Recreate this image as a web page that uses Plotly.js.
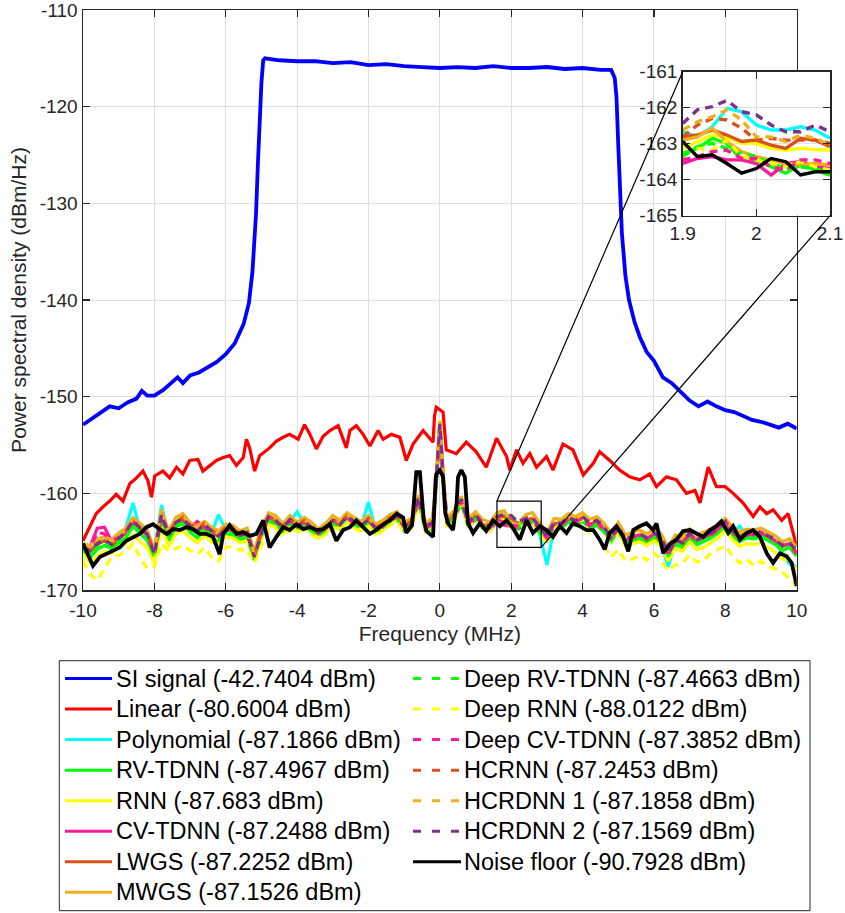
<!DOCTYPE html>
<html><head><meta charset="utf-8">
<script src="https://cdn.plot.ly/plotly-3.0.1.min.js"></script>
<style>html,body{margin:0;padding:0;background:#fff}#chart{width:845px;height:913px}</style>
</head><body><div id="chart"></div>
<script>
// ---------------- DATA ----------------
const siFreq = [-10,-9.75,-9.5,-9.25,-9,-8.75,-8.5,-8.35,-8.2,-8,-7.75,-7.5,-7.35,-7.2,-7,-6.75,-6.5,-6.25,-6,-5.75,-5.5,-5.35,-5.25,-5.15,-5.1,-5.05,-5,-4.95,-4.9,-4.5,-4,-3.5,-3,-2.5,-2,-1.5,-1,-0.5,0,0.5,1,1.5,2,2.5,3,3.5,4,4.5,4.8,4.9,4.95,5,5.05,5.1,5.2,5.3,5.45,5.6,5.8,6,6.25,6.5,6.75,7,7.25,7.5,7.75,8,8.25,8.5,8.75,9,9.25,9.5,9.75,10];
const siPsd = [-152.9,-152.3,-151.6,-151.0,-151.2,-150.6,-150.2,-149.4,-149.9,-149.9,-149.3,-148.5,-148.0,-148.6,-147.8,-147.5,-146.9,-146.4,-145.6,-144.5,-142.5,-140.3,-137,-131,-126,-120.5,-117.5,-115.2,-115.0,-115.2,-115.3,-115.3,-115.5,-115.4,-115.7,-115.6,-115.8,-115.9,-116.0,-115.9,-116.0,-115.8,-116.0,-116.0,-115.9,-116.1,-116.0,-116.2,-116.2,-117.0,-119,-124,-129,-133,-137.5,-140,-142.2,-143.8,-145.4,-146.3,-148.0,-148.6,-149.5,-150.4,-151.0,-150.5,-151.0,-151.4,-151.6,-152.0,-152.4,-152.6,-152.9,-153.2,-152.8,-153.3];

const linearFreq = [-10,-9.81,-9.63,-9.44,-9.25,-9.07,-8.88,-8.69,-8.5,-8.32,-8.18,-8.08,-7.99,-7.76,-7.57,-7.38,-7.2,-7.01,-6.78,-6.64,-6.45,-6.26,-6.07,-5.89,-5.7,-5.51,-5.42,-5.33,-5.19,-5.05,-4.77,-4.58,-4.39,-4.21,-3.97,-3.79,-3.64,-3.46,-3.27,-3.08,-2.85,-2.62,-2.52,-2.34,-2.15,-1.96,-1.73,-1.59,-1.36,-1.12,-0.94,-0.75,-0.47,-0.19,-0.15,-0.1,0.09,0.18,0.46,0.74,1.02,1.3,1.59,1.87,1.96,2.15,2.33,2.52,2.71,2.99,3.17,3.45,3.73,4.02,4.3,4.48,4.76,5.04,5.32,5.6,5.88,6.07,6.35,6.63,6.91,7.15,7.29,7.52,7.75,7.99,8.22,8.5,8.78,8.97,9.16,9.34,9.58,9.76,9.9,10];
const linearPsd = [-164.9,-163.5,-162.1,-161.4,-160.8,-160.1,-160.8,-159.0,-158.4,-157.7,-158.7,-160.4,-158.2,-157.7,-158.4,-157.3,-158.0,-156.6,-156.5,-157.7,-157.1,-156.6,-156.3,-156.1,-157.1,-156.3,-154.4,-155.3,-157.7,-156.1,-155.3,-154.6,-154.2,-153.9,-154.4,-152.9,-153.9,-155.4,-154.1,-153.5,-153.0,-155.3,-153.5,-153.0,-153.9,-155.1,-153.5,-154.4,-153.9,-154.2,-156.6,-154.9,-153.5,-154.7,-152.0,-151.1,-151.6,-155.5,-155.9,-154.7,-155.7,-157.3,-154.3,-156.2,-157.6,-155.5,-156.9,-155.9,-157.3,-156.2,-157.6,-154.9,-155.5,-158.1,-156.9,-155.7,-156.6,-157.6,-158.3,-158.6,-158.0,-159.3,-158.3,-158.6,-160.0,-159.7,-161.0,-157.3,-159.3,-159.3,-160.0,-161.0,-162.4,-161.4,-162.1,-161.7,-162.8,-162.1,-164.1,-165.5];

const noiseFreq = [-10,-9.81,-9.72,-9.53,-9.35,-9.16,-8.97,-8.79,-8.6,-8.41,-8.22,-8.04,-7.85,-7.66,-7.48,-7.29,-7.1,-6.92,-6.73,-6.54,-6.36,-6.26,-6.17,-6.07,-5.89,-5.7,-5.51,-5.33,-5.14,-4.95,-4.81,-4.77,-4.58,-4.39,-4.21,-4.02,-3.83,-3.64,-3.46,-3.27,-3.08,-2.9,-2.71,-2.52,-2.34,-2.15,-1.96,-1.78,-1.59,-1.4,-1.21,-1.03,-0.94,-0.78,-0.7,-0.66,-0.56,-0.5,-0.45,-0.38,-0.19,-0.12,-0.1,0,0.09,0.15,0.23,0.37,0.47,0.51,0.6,0.7,0.75,0.79,0.93,1.12,1.3,1.49,1.68,1.87,2.05,2.24,2.43,2.61,2.8,2.99,3.17,3.36,3.55,3.73,3.92,4.11,4.3,4.48,4.62,4.76,4.95,5.14,5.28,5.42,5.6,5.79,5.98,6.07,6.26,6.45,6.63,6.82,7.01,7.19,7.38,7.57,7.75,7.89,8.08,8.22,8.41,8.6,8.78,8.97,9.16,9.34,9.53,9.72,9.86,10];
const noisePsd = [-165.2,-166.9,-167.5,-166.6,-166.3,-165.9,-165.6,-164.9,-164.5,-164.2,-163.5,-163.2,-163.7,-164.2,-163.7,-163.8,-163.5,-163.7,-164.2,-164.2,-164.5,-165.6,-166.3,-164.2,-163.3,-164.2,-164.0,-164.4,-164.2,-162.8,-164.9,-165.6,-164.5,-163.5,-163.8,-163.2,-163.7,-163.5,-163.8,-163.7,-163.2,-164.9,-163.8,-163.5,-162.8,-163.5,-164.2,-163.8,-163.2,-162.8,-162.1,-162.5,-164.1,-163.3,-158.6,-157.8,-157.8,-160.0,-162.8,-163.9,-164.5,-158.6,-158.0,-157.6,-158.3,-162.0,-163.1,-163.8,-161.0,-158.3,-157.6,-158.3,-161.5,-163.1,-164.1,-163.1,-163.9,-162.8,-163.4,-162.8,-163.6,-164.8,-162.8,-164.1,-163.4,-163.8,-164.5,-163.4,-164.1,-163.1,-163.4,-163.8,-163.8,-164.8,-165.8,-164.1,-163.4,-164.5,-166.0,-163.8,-163.4,-163.1,-163.8,-163.1,-166.2,-165.2,-164.8,-163.9,-163.8,-164.1,-164.5,-163.8,-163.4,-162.9,-164.1,-163.4,-164.8,-164.1,-163.8,-164.5,-166.2,-167.2,-166.2,-166.5,-167.2,-169.6];

// common frequency grid for the cancellation methods
const gridFreq = [-10,-9.8,-9.6,-9.4,-9.2,-9,-8.8,-8.6,-8.4,-8.2,-8,-7.8,-7.6,-7.4,-7.2,-7,-6.8,-6.6,-6.4,-6.2,-6,-5.8,-5.6,-5.4,-5.2,-5,-4.8,-4.6,-4.4,-4.2,-4,-3.8,-3.6,-3.4,-3.2,-3,-2.8,-2.6,-2.4,-2.2,-2,-1.8,-1.6,-1.4,-1.2,-1,-0.8,-0.6,-0.4,-0.2,-0.1,0,0.1,0.2,0.4,0.6,0.8,1,1.2,1.4,1.6,1.8,2,2.2,2.4,2.6,2.8,3,3.2,3.4,3.6,3.8,4,4.2,4.4,4.6,4.8,5,5.2,5.4,5.6,5.8,6,6.2,6.4,6.6,6.8,7,7.2,7.4,7.6,7.8,8,8.2,8.4,8.6,8.8,9,9.2,9.4,9.6,9.8,10];

const polynomialPsd = [-165.8,-166.2,-165.0,-164.9,-165.4,-164.8,-163.6,-161.0,-163.8,-164.4,-165.9,-161.2,-164.5,-163.2,-162.9,-163.6,-164.1,-163.4,-164.1,-162.2,-163.8,-164.0,-164.5,-164.4,-166.2,-163.6,-162.8,-163.0,-163.7,-162.9,-161.9,-163.1,-163.7,-164.2,-163.7,-163.0,-163.4,-162.6,-163.1,-163.4,-160.9,-163.8,-163.5,-162.8,-162.4,-163.5,-163.2,-160.7,-163.6,-163.2,-158.8,-153.0,-158.8,-163.1,-162.4,-160.8,-163.2,-162.4,-163.3,-163.6,-162.6,-162.3,-162.3,-163.2,-162.9,-162.8,-164.3,-167.4,-163.6,-163.4,-162.8,-163.0,-162.6,-163.4,-163.1,-163.8,-164.9,-163.7,-165.1,-164.7,-164.4,-164.8,-164.4,-165.2,-167.6,-165.1,-165.4,-164.4,-165.0,-164.7,-164.3,-163.8,-163.2,-164.1,-163.4,-164.3,-164.5,-164.2,-164.6,-165.1,-166.2,-167.3,-167.6];
const rvTdnnPsd = [-165.9,-166.6,-165.8,-165.4,-165.7,-165.1,-164.6,-163.4,-164.2,-164.9,-166.6,-162.9,-164.9,-163.5,-163.1,-164.0,-164.6,-163.8,-164.5,-165.1,-164.2,-164.3,-164.8,-164.6,-166.9,-164.5,-162.9,-163.3,-164.0,-163.2,-163.9,-163.4,-164.0,-164.6,-164.0,-163.3,-163.7,-162.9,-163.4,-163.8,-163.2,-164.1,-163.8,-163.1,-162.7,-163.9,-163.5,-160.9,-163.9,-163.6,-159.0,-153.0,-159.0,-163.4,-162.7,-161.0,-163.5,-162.7,-163.6,-163.9,-162.9,-162.8,-163.4,-163.7,-163.2,-163.0,-164.1,-164.9,-163.5,-163.6,-163.0,-163.3,-162.9,-163.6,-163.3,-164.0,-165.0,-163.9,-165.3,-164.9,-164.7,-165.1,-164.6,-165.1,-166.6,-165.3,-165.6,-164.6,-165.3,-165.0,-164.6,-164.1,-163.4,-164.4,-165.0,-164.6,-164.7,-164.5,-164.9,-165.3,-165.9,-165.6,-166.5];
const rnnPsd = [-166.3,-167.2,-166.5,-166.0,-166.2,-165.6,-165.2,-164.3,-165.0,-165.6,-167.2,-163.5,-165.5,-164.2,-163.9,-164.6,-165.1,-164.4,-165.0,-165.3,-164.5,-164.6,-165.1,-164.9,-166.8,-164.6,-163.2,-163.5,-164.1,-163.4,-163.9,-163.5,-164.0,-164.6,-164.0,-163.3,-163.6,-162.9,-163.4,-163.8,-163.2,-164.0,-163.8,-163.1,-162.7,-163.8,-163.5,-160.7,-163.8,-163.4,-158.5,-152.4,-158.5,-163.3,-162.6,-160.8,-163.3,-162.5,-163.4,-163.7,-162.7,-162.6,-163.0,-163.3,-162.9,-162.7,-163.8,-164.8,-163.3,-163.1,-162.3,-162.6,-162.3,-163.2,-163.1,-163.8,-165.0,-164.0,-165.5,-165.2,-165.0,-165.4,-164.9,-165.5,-167.0,-165.7,-166.0,-165.0,-165.8,-165.6,-165.1,-164.6,-163.8,-164.8,-165.5,-165.2,-165.3,-165.1,-165.6,-166.1,-166.8,-166.9,-168.0];
const cvTdnnPsd = [-165.4,-165.5,-163.6,-163.5,-164.9,-164.5,-163.8,-163.0,-163.4,-164.4,-166.0,-162.6,-163.8,-163.2,-162.6,-163.6,-162.9,-163.5,-164.1,-164.2,-163.9,-163.5,-164.2,-164.3,-166.2,-164.2,-162.6,-162.9,-163.4,-163.0,-163.2,-163.1,-163.6,-164.0,-163.7,-162.9,-163.0,-162.6,-163.1,-163.2,-162.9,-163.5,-163.5,-162.8,-162.5,-163.6,-163.2,-160.8,-163.6,-163.3,-158.9,-153.1,-158.9,-163.1,-162.5,-160.9,-163.3,-162.6,-163.4,-163.7,-162.9,-163.3,-163.4,-163.6,-163.2,-163.0,-163.9,-164.7,-163.4,-163.3,-162.8,-163.0,-162.7,-163.4,-163.0,-163.8,-164.7,-163.7,-165.0,-164.6,-164.4,-164.8,-164.3,-164.8,-166.3,-165.0,-165.0,-164.3,-164.9,-164.4,-164.3,-163.8,-162.8,-164.1,-164.5,-164.3,-164.4,-164.1,-164.5,-164.9,-165.4,-165.3,-166.3];
const lwgsPsd = [-165.7,-166.0,-165.3,-164.9,-165.4,-164.7,-164.1,-163.0,-163.7,-164.3,-166.2,-162.4,-164.4,-163.1,-162.7,-163.5,-164.0,-163.3,-164.0,-164.5,-163.7,-163.9,-164.4,-164.2,-166.5,-164.1,-162.5,-162.9,-163.6,-162.8,-163.5,-163.0,-163.6,-164.2,-163.6,-162.9,-163.3,-162.5,-163.0,-163.4,-162.8,-163.7,-163.4,-162.7,-162.3,-163.5,-163.1,-160.6,-163.5,-163.1,-158.7,-152.9,-158.7,-163.0,-162.3,-160.8,-163.1,-162.3,-163.2,-163.5,-162.5,-162.4,-162.9,-163.1,-162.7,-162.6,-163.7,-164.5,-163.1,-163.2,-162.6,-162.9,-162.5,-163.2,-162.9,-163.6,-164.6,-163.5,-164.9,-164.5,-164.3,-164.7,-164.2,-164.7,-166.2,-164.9,-165.2,-164.2,-164.9,-164.6,-164.2,-163.7,-163.0,-164.0,-164.6,-164.2,-164.3,-164.1,-164.5,-164.9,-165.5,-165.2,-166.1];
const mwgsPsd = [-165.2,-165.4,-164.7,-164.5,-164.8,-164.1,-163.6,-162.5,-163.1,-163.8,-165.8,-161.8,-163.9,-162.5,-162.1,-163.0,-163.4,-162.9,-163.5,-163.9,-163.2,-163.3,-163.9,-163.6,-166.0,-163.5,-162.0,-162.3,-163.1,-162.3,-163.0,-162.5,-163.0,-163.7,-163.1,-162.3,-162.8,-162.0,-162.5,-162.9,-162.3,-163.2,-162.8,-162.2,-161.9,-163.0,-162.6,-160.2,-163.0,-162.6,-158.2,-152.6,-158.3,-162.5,-161.8,-160.3,-162.6,-161.9,-162.7,-163.0,-162.0,-161.8,-163.0,-163.3,-162.2,-162.0,-163.1,-164.0,-162.6,-162.7,-162.1,-162.4,-162.0,-162.7,-162.4,-163.1,-164.1,-163.0,-164.3,-164.0,-163.8,-164.2,-163.7,-164.2,-165.6,-164.3,-164.6,-163.7,-164.3,-164.0,-163.7,-163.2,-162.6,-163.5,-164.0,-163.7,-163.8,-163.6,-164.0,-164.4,-165.0,-164.7,-165.6];
const deepRvTdnnPsd = [-165.9,-166.4,-165.6,-165.2,-165.6,-165.0,-164.4,-163.2,-164.0,-164.7,-166.6,-162.6,-164.7,-163.4,-163.0,-163.8,-164.3,-163.6,-164.3,-164.8,-164.0,-164.2,-164.7,-164.5,-166.9,-164.4,-162.8,-163.2,-163.9,-163.1,-163.8,-163.3,-163.9,-164.5,-163.9,-163.2,-163.6,-162.8,-163.3,-163.7,-163.1,-164.0,-163.7,-163.0,-162.6,-163.8,-163.4,-160.8,-163.8,-163.4,-158.9,-152.9,-158.9,-163.3,-162.6,-160.9,-163.4,-162.6,-163.5,-163.8,-162.8,-162.6,-163.2,-163.5,-163.0,-162.9,-164.0,-164.8,-163.4,-163.5,-162.9,-163.2,-162.8,-163.5,-163.2,-163.9,-164.9,-163.8,-165.2,-164.8,-164.6,-165.0,-164.5,-165.0,-166.5,-165.2,-165.5,-164.5,-165.2,-164.9,-164.5,-164.0,-163.3,-164.3,-164.9,-164.5,-164.6,-164.4,-164.8,-165.2,-165.8,-165.5,-166.4];
const deepRnnPsd = [-167.0,-168.4,-169.0,-167.8,-166.6,-166.4,-166.0,-165.2,-166.6,-167.8,-167.6,-165.2,-166.0,-165.7,-165.4,-165.9,-166.3,-165.6,-166.6,-167.0,-165.6,-165.5,-165.9,-165.7,-167.2,-165.4,-163.8,-164.0,-164.5,-163.8,-164.1,-163.7,-164.2,-164.8,-164.2,-163.5,-163.8,-163.0,-163.6,-164.0,-163.4,-164.2,-164.0,-163.3,-162.9,-164.0,-163.7,-160.9,-164.0,-163.6,-158.7,-152.6,-158.7,-163.5,-162.8,-161.0,-163.5,-162.7,-163.6,-163.9,-162.9,-162.8,-163.5,-163.6,-163.2,-163.0,-164.1,-165.3,-163.5,-163.3,-162.5,-162.8,-162.8,-164.2,-164.4,-165.4,-166.6,-165.8,-167.0,-166.8,-166.4,-166.9,-166.2,-166.9,-168.0,-167.4,-167.2,-166.4,-167.1,-166.9,-166.2,-165.8,-165.4,-166.5,-167.2,-166.8,-167.5,-167.0,-167.6,-167.8,-168.2,-168.8,-169.6];
const deepCvTdnnPsd = [-165.5,-165.7,-164.0,-164.2,-165.0,-164.5,-163.9,-162.9,-163.5,-164.3,-166.1,-162.4,-164.1,-163.1,-162.5,-163.4,-163.3,-163.3,-164.0,-164.3,-163.7,-163.6,-164.2,-164.1,-166.4,-164.1,-162.5,-162.8,-163.5,-162.9,-163.3,-163.0,-163.5,-164.1,-163.6,-162.8,-163.1,-162.5,-163.0,-163.3,-162.8,-163.6,-163.4,-162.7,-162.4,-163.5,-163.1,-160.6,-163.5,-163.2,-158.8,-153.0,-158.8,-163.0,-162.4,-160.8,-163.2,-162.4,-163.3,-163.6,-162.7,-163.0,-163.3,-163.4,-162.9,-162.8,-163.8,-164.6,-163.2,-163.2,-162.7,-162.9,-162.6,-163.3,-162.9,-163.7,-164.6,-163.6,-164.9,-164.5,-164.3,-164.7,-164.2,-164.7,-166.2,-164.9,-165.1,-164.2,-164.8,-164.5,-164.2,-163.7,-162.9,-164.0,-164.5,-164.2,-164.3,-164.0,-164.5,-164.9,-165.4,-165.2,-166.2];
const hcrnnPsd = [-165.5,-165.8,-165.1,-164.7,-165.1,-164.5,-163.9,-162.9,-163.5,-164.1,-166.1,-162.0,-164.2,-162.9,-162.5,-163.3,-163.8,-163.1,-163.8,-164.3,-163.5,-163.7,-164.2,-164.0,-166.4,-163.8,-162.4,-162.7,-163.4,-162.6,-163.3,-162.8,-163.4,-164.0,-163.4,-162.7,-163.1,-162.3,-162.8,-163.2,-162.6,-163.5,-163.2,-162.5,-162.1,-163.3,-162.9,-160.5,-163.3,-162.9,-158.5,-152.7,-158.5,-162.8,-162.1,-160.6,-162.9,-162.1,-163.0,-163.3,-162.3,-162.2,-162.6,-162.9,-162.5,-162.4,-163.5,-164.3,-162.9,-163.0,-162.4,-162.7,-162.3,-163.0,-162.7,-163.4,-164.4,-163.3,-164.7,-164.3,-164.1,-164.5,-164.0,-164.5,-166.0,-164.7,-165.0,-164.0,-164.7,-164.4,-164.0,-163.5,-162.8,-163.8,-164.4,-164.0,-164.1,-163.9,-164.3,-164.7,-165.3,-165.0,-165.9];
const hcrdnn1Psd = [-165.4,-165.6,-165.0,-164.6,-165.0,-164.4,-163.8,-162.6,-163.3,-164.0,-166.0,-161.6,-164.0,-162.8,-162.3,-163.2,-163.6,-163.0,-163.7,-164.2,-163.4,-163.5,-164.1,-163.8,-166.3,-163.7,-162.2,-162.6,-163.3,-162.5,-163.2,-162.7,-163.3,-163.9,-163.3,-162.5,-163.0,-162.2,-162.7,-163.1,-162.5,-163.4,-163.0,-162.4,-162.0,-163.2,-162.8,-160.3,-163.2,-162.8,-158.4,-152.5,-158.4,-162.7,-162.0,-160.5,-162.8,-162.0,-162.9,-163.2,-162.2,-162.0,-162.4,-162.9,-162.4,-162.3,-163.4,-164.2,-162.8,-162.9,-162.3,-162.6,-162.2,-162.9,-162.6,-163.3,-164.3,-163.2,-164.6,-164.2,-164.0,-164.4,-163.9,-164.4,-165.9,-164.6,-164.9,-163.9,-164.6,-164.3,-163.9,-163.4,-162.7,-163.7,-164.3,-163.9,-164.0,-163.8,-164.2,-164.6,-165.2,-164.9,-165.8];
const hcrdnn2Psd = [-165.6,-165.9,-165.2,-164.8,-165.3,-164.6,-164.0,-162.8,-163.6,-164.2,-166.3,-162.2,-164.3,-163.0,-162.6,-163.4,-163.9,-163.2,-163.9,-164.4,-163.6,-163.8,-164.3,-164.1,-166.6,-164.0,-162.4,-162.8,-163.5,-162.7,-163.4,-162.9,-163.5,-164.1,-163.5,-162.8,-163.2,-162.4,-162.9,-163.3,-162.7,-163.6,-163.3,-162.6,-162.2,-163.4,-163.0,-160.4,-163.4,-163.0,-158.6,-152.8,-158.6,-162.9,-162.2,-160.6,-163.0,-162.2,-163.1,-163.4,-162.4,-162.2,-162.3,-163.0,-162.6,-162.5,-163.6,-164.4,-163.0,-163.1,-162.5,-162.8,-162.4,-163.1,-162.8,-163.5,-164.5,-163.4,-164.8,-164.4,-164.2,-164.6,-164.1,-164.6,-166.1,-164.8,-165.1,-164.1,-164.8,-164.5,-164.1,-163.6,-162.9,-163.9,-164.5,-164.1,-164.2,-164.0,-164.4,-164.8,-165.4,-165.1,-166.0];

// zoomed inset (1.9 - 2.1 MHz)
const insetFreq = [1.9,1.92,1.94,1.96,1.98,2.0,2.02,2.04,2.06,2.08,2.1];
const insetPolynomial = [-162.67,-162.81,-162.53,-162.02,-162.11,-162.48,-162.62,-162.62,-162.53,-162.62,-162.85];
const insetRvTdnn = [-163.27,-163.13,-162.85,-162.99,-163.45,-163.45,-163.64,-163.82,-163.59,-163.73,-163.87];
const insetRnn = [-163.13,-162.94,-162.76,-162.81,-162.99,-162.99,-163.13,-163.18,-163.13,-163.16,-163.18];
const insetCvTdnn = [-163.55,-163.41,-163.36,-163.45,-163.45,-163.55,-163.87,-163.55,-163.50,-163.64,-163.69];
const insetLwgs = [-162.81,-162.76,-162.62,-162.76,-162.94,-162.90,-163.04,-163.13,-162.85,-162.90,-163.08];
const insetMwgs = [-162.90,-162.81,-162.57,-162.94,-163.22,-163.36,-163.45,-163.55,-163.59,-163.55,-163.59];
const insetDeepRvTdnn = [-163.36,-163.08,-162.99,-163.13,-163.27,-163.36,-163.55,-163.69,-163.64,-163.69,-163.82];
const insetDeepRnn = [-163.08,-163.13,-163.18,-162.90,-163.36,-163.45,-163.55,-163.64,-163.50,-163.64,-163.73];
const insetDeepCvTdnn = [-163.45,-163.36,-163.22,-163.18,-163.41,-163.41,-163.64,-163.73,-163.45,-163.45,-163.55];
const insetHcrnn = [-162.81,-162.48,-162.30,-162.34,-162.57,-162.90,-162.85,-162.90,-162.90,-162.90,-162.99];
const insetHcrdnn1 = [-162.62,-162.39,-162.25,-162.06,-162.34,-162.81,-162.81,-162.94,-162.76,-162.85,-163.04];
const insetHcrdnn2 = [-162.44,-162.06,-161.97,-161.80,-162.11,-162.20,-162.48,-162.67,-162.67,-162.48,-162.67];
const insetNoise = [-162.94,-163.36,-163.31,-163.55,-163.82,-163.69,-163.41,-163.50,-163.87,-163.78,-163.78];

const seriesNames = ['SI signal','Linear','Polynomial','RV-TDNN','RNN','CV-TDNN','LWGS','MWGS','Deep RV-TDNN','Deep RNN','Deep CV-TDNN','HCRNN','HCRDNN 1','HCRDNN 2','Noise floor'];
const seriesPowerDbm = [-42.7404,-80.6004,-87.1866,-87.4967,-87.683,-87.2488,-87.2252,-87.1526,-87.4663,-88.0122,-87.3852,-87.2453,-87.1858,-87.1569,-90.7928];

// tick values / labels
const mainXTicks = [-10,-8,-6,-4,-2,0,2,4,6,8,10];
const mainXTickText = ['-10','-8','-6','-4','-2','0','2','4','6','8','10'];
const mainYTicks = [-170,-160,-150,-140,-130,-120,-110];
const mainYTickText = ['-170','-160','-150','-140','-130','-120','-110'];
const insetXTicks = [1.9,2.0,2.1];
const insetXTickText = ['1.9','2','2.1'];
const insetYTicks = [-165,-164,-163,-162,-161];
const insetYTickText = ['-165','-164','-163','-162','-161'];

// zoom box on the main axes (MHz, dBm/Hz)
const zoomBoxFreq = [1.6, 2.84];
const zoomBoxPsd = [-165.6, -160.8];

// ---------------- STYLE ----------------
const seriesColors = ['#0000ff','#ff0000','#00ffff','#00ff00','#ffff00','#ff1a9c','#d95319','#edb120','#00ff00','#ffff00','#ff1a9c','#d95319','#edb120','#7e2f8e','#000000'];
const seriesDashed = [false,false,false,false,false,false,false,false,true,true,true,true,true,true,false];

const mainFreqs = [siFreq, linearFreq, gridFreq, gridFreq, gridFreq, gridFreq, gridFreq, gridFreq, gridFreq, gridFreq, gridFreq, gridFreq, gridFreq, gridFreq, noiseFreq];
const mainPsds = [siPsd, linearPsd, polynomialPsd, rvTdnnPsd, rnnPsd, cvTdnnPsd, lwgsPsd, mwgsPsd, deepRvTdnnPsd, deepRnnPsd, deepCvTdnnPsd, hcrnnPsd, hcrdnn1Psd, hcrdnn2Psd, noisePsd];
const insetPsds = [null, null, insetPolynomial, insetRvTdnn, insetRnn, insetCvTdnn, insetLwgs, insetMwgs, insetDeepRvTdnn, insetDeepRnn, insetDeepCvTdnn, insetHcrnn, insetHcrdnn1, insetHcrdnn2, insetNoise];

const FONT = 'Arial, "Liberation Sans", Helvetica, sans-serif';
const AXC = '#262626';
const GRID = '#dfdfdf';
const W = 845, H = 913;
const M = {l: 83, r: 12, t: 10, b: 323};
const PW = W - M.l - M.r, PH = H - M.t - M.b;
const pxX = px => (px - M.l) / PW;
const pxY = py => (H - M.b - py) / PH;

const mainXDomain = [0, pxX(796.7)];
const insetXDomain = [pxX(682.7), pxX(830)];
const insetYDomain = [pxY(215.7), pxY(71.7)];
const mainXRange = [-10, 10], mainYRange = [-170, -110];

const traceDash = '8px,6px';
const traces = [];
seriesNames.forEach((name, i) => {
  traces.push({
    type: 'scatter', mode: 'lines', x: mainFreqs[i], y: mainPsds[i],
    name: name, showlegend: false, hoverinfo: 'skip',
    line: {color: seriesColors[i], width: (i === 0 || i === 14) ? 3.8 : 3.2, dash: seriesDashed[i] ? traceDash : 'solid'},
    xaxis: 'x', yaxis: 'y'
  });
});
seriesNames.forEach((name, i) => {
  if (!insetPsds[i]) return;
  traces.push({
    type: 'scatter', mode: 'lines', x: insetFreq, y: insetPsds[i],
    name: name, showlegend: false, hoverinfo: 'skip',
    line: {color: seriesColors[i], width: 3.4, dash: seriesDashed[i] ? traceDash : 'solid'},
    xaxis: 'x2', yaxis: 'y2'
  });
});

function mainToPaper(x, y) {
  const px = mainXDomain[0] + (x - mainXRange[0]) / (mainXRange[1] - mainXRange[0]) * (mainXDomain[1] - mainXDomain[0]);
  const py = (y - mainYRange[0]) / (mainYRange[1] - mainYRange[0]);
  return [px, py];
}

const shapes = [];
const annotations = [];
shapes.push({type: 'rect', xref: 'x', yref: 'y', x0: zoomBoxFreq[0], x1: zoomBoxFreq[1], y0: zoomBoxPsd[0], y1: zoomBoxPsd[1], line: {color: '#000', width: 1.2}, layer: 'above'});
const tl = mainToPaper(zoomBoxFreq[0], zoomBoxPsd[1]);
const br = mainToPaper(zoomBoxFreq[1], zoomBoxPsd[0]);
shapes.push({type: 'line', xref: 'paper', yref: 'paper', x0: tl[0], y0: tl[1], x1: insetXDomain[0], y1: insetYDomain[1], line: {color: '#000', width: 1.2}, layer: 'above'});
shapes.push({type: 'line', xref: 'paper', yref: 'paper', x0: br[0], y0: br[1], x1: insetXDomain[1], y1: insetYDomain[0], line: {color: '#000', width: 1.2}, layer: 'above'});

// legend (two columns: 8 + 7 entries)
const LEG = {x0: 59.3, x1: 810, y0: 660.7, y1: 910.7, row0: 678.5, step: 30.55};
const cols = [{l0: 65, l1: 112, t: 114}, {l0: 413, l1: 461, t: 461.5}];
shapes.push({type: 'rect', xref: 'paper', yref: 'paper', x0: pxX(LEG.x0), x1: pxX(LEG.x1), y0: pxY(LEG.y1), y1: pxY(LEG.y0), line: {color: AXC, width: 1}, fillcolor: 'rgba(255,255,255,1)', layer: 'above'});
seriesNames.forEach((name, i) => {
  const c = i < 8 ? cols[0] : cols[1];
  const r = i < 8 ? i : i - 8;
  const yy = LEG.row0 + r * LEG.step;
  shapes.push({type: 'line', xref: 'paper', yref: 'paper', x0: pxX(c.l0), x1: pxX(c.l1), y0: pxY(yy), y1: pxY(yy),
    line: {color: seriesColors[i], width: 3, dash: seriesDashed[i] ? '8px,11px' : 'solid'}, layer: 'above'});
  annotations.push({xref: 'paper', yref: 'paper', x: pxX(c.t), y: pxY(yy), xanchor: 'left', yanchor: 'middle',
    text: name + ' (' + seriesPowerDbm[i] + ' dBm)', showarrow: false,
    font: {family: FONT, size: 23.5, color: '#000'}});
});

const axisCommon = {
  showline: true, linecolor: AXC, linewidth: 1.5, mirror: 'ticks',
  ticks: 'inside', ticklen: 7, tickwidth: 1.2, tickcolor: AXC,
  showgrid: true, gridcolor: GRID, gridwidth: 1, zeroline: false,
  tickfont: {family: FONT, size: 19, color: AXC}, fixedrange: true,
  tickmode: 'array', ticklabeloverflow: 'allow'
};

const layout = {
  width: W, height: H, margin: M, showlegend: false,
  paper_bgcolor: '#fff', plot_bgcolor: '#fff',
  font: {family: FONT, color: AXC},
  xaxis: Object.assign({}, axisCommon, {domain: mainXDomain, range: mainXRange, anchor: 'y',
    tickvals: mainXTicks, ticktext: mainXTickText, ticklabelstandoff: 3,
    title: {text: 'Frequency (MHz)', font: {family: FONT, size: 21, color: AXC}, standoff: 6}}),
  yaxis: Object.assign({}, axisCommon, {domain: [0, 1], range: mainYRange, anchor: 'x',
    tickvals: mainYTicks, ticktext: mainYTickText, ticklabelstandoff: -5.5,
    title: {text: 'Power spectral density (dBm/Hz)', font: {family: FONT, size: 21, color: AXC}, standoff: 7}}),
  xaxis2: Object.assign({}, axisCommon, {domain: insetXDomain, range: [1.9, 2.1], anchor: 'y2',
    tickvals: insetXTicks, ticktext: insetXTickText}),
  yaxis2: Object.assign({}, axisCommon, {domain: insetYDomain, range: [-165, -161], anchor: 'x2',
    tickvals: insetYTicks, ticktext: insetYTickText, ticklabelstandoff: -4.5}),
  shapes: shapes, annotations: annotations
};

Plotly.newPlot('chart', traces, layout, {staticPlot: true, displayModeBar: false});
</script>
</body></html>
